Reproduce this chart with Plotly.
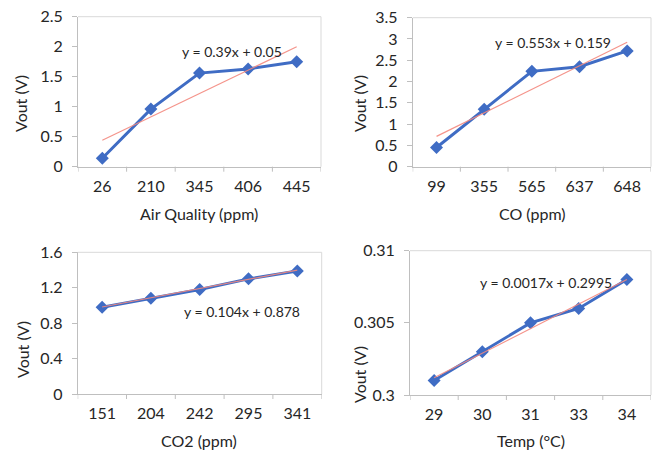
import numpy as np
import plotly.graph_objects as go

# ---------------- data ----------------
aq_labels = ["26", "210", "345", "406", "445"]
aq_vout = [0.14, 0.96, 1.56, 1.63, 1.75]

co_labels = ["99", "355", "565", "637", "648"]
co_vout = [0.45, 1.35, 2.24, 2.35, 2.72]

co2_labels = ["151", "204", "242", "295", "341"]
co2_vout = [0.98, 1.08, 1.18, 1.30, 1.39]

temp_labels = ["29", "30", "31", "33", "34"]
temp_vout = [0.3010, 0.3030, 0.3050, 0.3060, 0.3080]

y_tickvals = [[0, 0.5, 1, 1.5, 2, 2.5],
              [0, 0.5, 1, 1.5, 2, 2.5, 3, 3.5],
              [0, 0.4, 0.8, 1.2, 1.6],
              [0.3, 0.305, 0.31]]
y_ticktext = [["0", "0.5", "1", "1.5", "2", "2.5"],
              ["0", "0.5", "1", "1.5", "2", "2.5", "3", "3.5"],
              ["0", "0.4", "0.8", "1.2", "1.6"],
              ["0.3", "0.305", "0.31"]]

slopes = [0.39, 0.553, 0.104, 0.0017]
intercepts = [0.05, 0.159, 0.878, 0.2995]
equations = ["y = 0.39x + 0.05", "y = 0.553x + 0.159",
             "y = 0.104x + 0.878", "y = 0.0017x + 0.2995"]
x_titles = ["Air Quality (ppm)", "CO (ppm)", "CO2 (ppm)", "Temp (°C)"]
y_title = "Vout (V)"

W, H = 653, 452
FONT = "Lato"
BLUE = "#3F6CC4"
RED = "#F4897F"
AX = "#BFBFBF"
TXT = "#262626"
TICK_SIZE = 16
TITLE_SIZE = 16
EQ_SIZE = 14

# panel plot-area boxes in pixels: (left, right, top, bottom)
boxes = [(78, 321, 16.7, 166.7), (412.7, 651, 17.7, 166.7),
         (77.7, 321.7, 252.3, 394), (410, 651, 250.7, 395)]
eq_pos = [(232, 52), (553, 43), (242, 311), (546, 282)]
xtitle_pos = [(199, 213), (532, 213), (199, 440), (531, 440)]
ytitle_pos = [(20, 104), (359, 104), (22, 350), (359, 375)]

panels = [(aq_labels, aq_vout), (co_labels, co_vout),
          (co2_labels, co2_vout), (temp_labels, temp_vout)]

fig = go.Figure()
layout = dict(width=W, height=H, margin=dict(l=0, r=0, t=0, b=0),
              paper_bgcolor="white", plot_bgcolor="white",
              showlegend=False, font=dict(family=FONT, size=TICK_SIZE, color=TXT))
annotations = []
shapes = []

for i, ((labels, vals), box) in enumerate(zip(panels, boxes)):
    n = i + 1
    xa = "x" if n == 1 else f"x{n}"
    ya = "y" if n == 1 else f"y{n}"
    xkey = "xaxis" if n == 1 else f"xaxis{n}"
    ykey = "yaxis" if n == 1 else f"yaxis{n}"
    l, r, t, b = box
    xpos = np.arange(1, len(labels) + 1)
    # trendline from the displayed fit coefficients
    trend = slopes[i] * xpos + intercepts[i]
    fig.add_trace(go.Scatter(x=xpos, y=vals, mode="lines+markers",
                             line=dict(color=BLUE, width=3),
                             marker=dict(symbol="diamond", size=10, color=BLUE),
                             xaxis=xa, yaxis=ya))
    fig.add_trace(go.Scatter(x=[xpos[0], xpos[-1]], y=[trend[0], trend[-1]],
                             mode="lines", line=dict(color=RED, width=1.2),
                             opacity=0.9, xaxis=xa, yaxis=ya))
    layout[xkey] = dict(domain=[l / W, r / W], anchor=ya, automargin=False,
                        range=[0.5, len(labels) + 0.5],
                        tickvals=list(xpos), ticktext=labels,
                        showline=True, linecolor=AX, linewidth=1,
                        showgrid=False, zeroline=False, ticks="",
                        ticklabelstandoff=5,
                        tickfont=dict(size=TICK_SIZE, family=FONT, color=TXT),
                        fixedrange=True)
    tv = y_tickvals[i]
    layout[ykey] = dict(domain=[1 - b / H, 1 - t / H], anchor=xa, automargin=False,
                        range=[tv[0], tv[-1]],
                        tickvals=tv, ticktext=y_ticktext[i],
                        showline=True, linecolor=AX, linewidth=1,
                        showgrid=False, zeroline=False,
                        ticks="outside", ticklen=5, tickcolor=AX,
                        ticklabelstandoff=6,
                        tickfont=dict(size=TICK_SIZE, family=FONT, color=TXT),
                        fixedrange=True)
    # category boundary tick marks on x axis
    for k in range(len(labels) + 1):
        bx = 0.5 + k
        shapes.append(dict(type="line", xref=xa, yref="paper",
                           x0=bx, x1=bx, y0=1 - b / H, y1=1 - (b + 5) / H,
                           line=dict(color=AX, width=1)))
    # plot-area border: top and right
    shapes.append(dict(type="line", xref="paper", yref="paper",
                       x0=l / W, x1=r / W, y0=1 - t / H, y1=1 - t / H,
                       line=dict(color="#D9D9D9", width=1)))
    shapes.append(dict(type="line", xref="paper", yref="paper",
                       x0=r / W, x1=r / W, y0=1 - t / H, y1=1 - b / H,
                       line=dict(color="#D9D9D9", width=1)))
    ex, ey = eq_pos[i]
    annotations.append(dict(text=equations[i], x=ex / W, y=1 - ey / H,
                            xref="paper", yref="paper", showarrow=False,
                            xanchor="center", yanchor="middle",
                            font=dict(size=EQ_SIZE, family=FONT, color=TXT)))
    tx, ty = xtitle_pos[i]
    annotations.append(dict(text=x_titles[i], x=tx / W, y=1 - ty / H,
                            xref="paper", yref="paper", showarrow=False,
                            xanchor="center", yanchor="middle",
                            font=dict(size=TITLE_SIZE, family=FONT, color=TXT)))
    vx, vy = ytitle_pos[i]
    annotations.append(dict(text=y_title, x=vx / W, y=1 - vy / H, textangle=-90,
                            xref="paper", yref="paper", showarrow=False,
                            xanchor="center", yanchor="middle",
                            font=dict(size=TITLE_SIZE, family=FONT, color=TXT)))

layout["annotations"] = annotations
layout["shapes"] = shapes
fig.update_layout(**layout)
fig.write_html("out.html", config={"displayModeBar": False},
               post_script="document.body.style.margin='0';document.body.style.overflow='hidden';")
